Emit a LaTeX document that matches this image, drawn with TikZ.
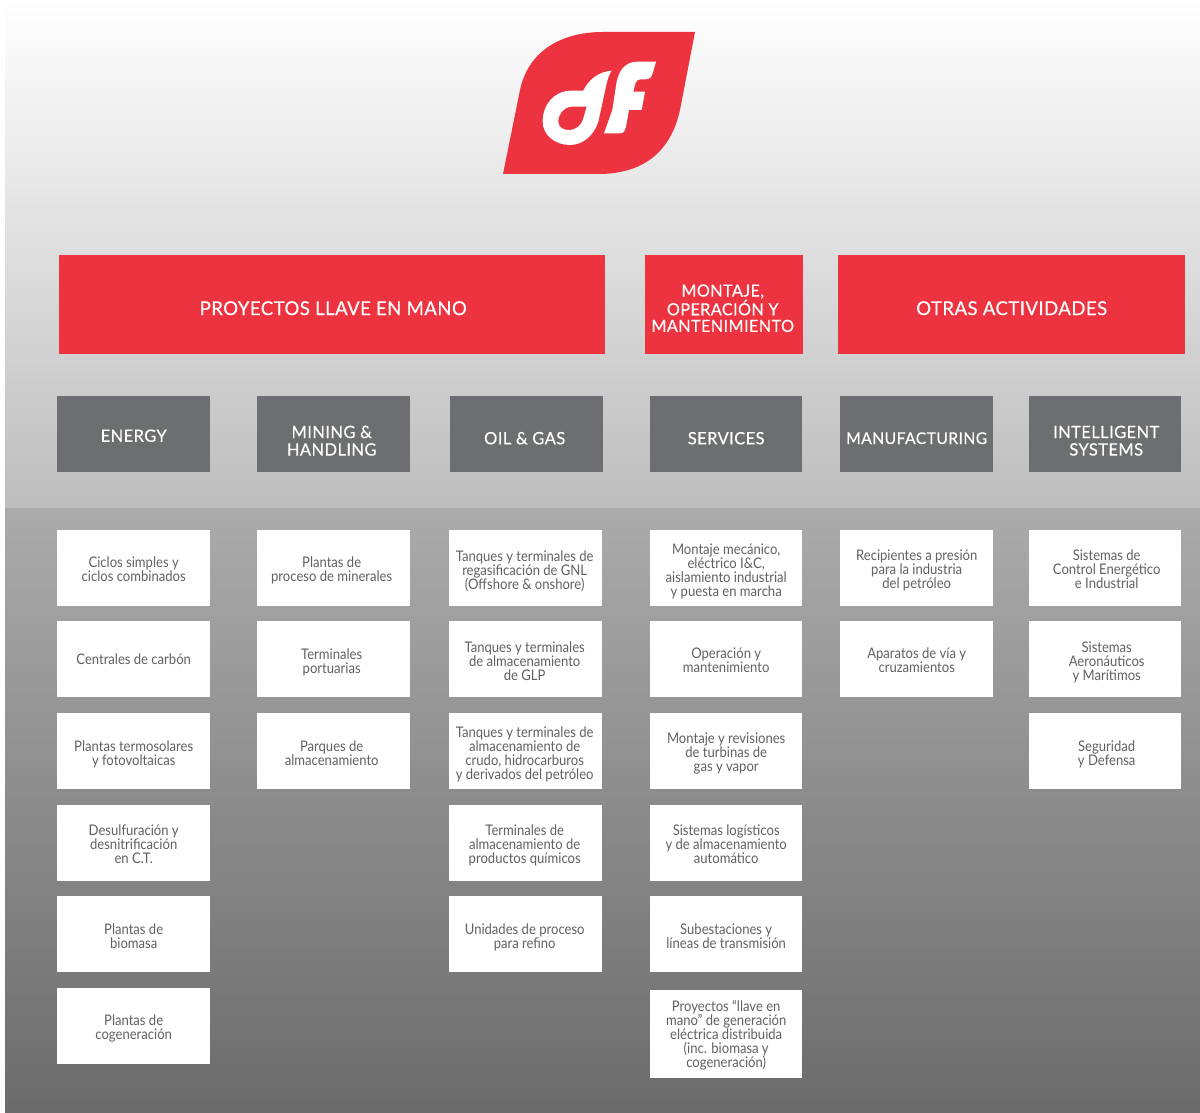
\documentclass[tikz,border=0pt]{standalone}
\usepackage{fontspec}
\newfontfamily\bodyf[FakeStretch=0.895]{Lato}
\newfontfamily\headf[FakeStretch=0.97,LetterSpace=2.5,FakeBold=0.35]{Lato}
\definecolor{dfred}{HTML}{EE3340}
\definecolor{dfgray}{HTML}{6D6E71}
\definecolor{dftext}{HTML}{5F6164}
\tikzset{
  redbox/.style={anchor=north west,fill=dfred,inner sep=0pt,minimum height=99pt},
  redtext/.style={text=white,inner sep=0pt,align=center,yshift=-3.5pt,font=\headf\fontsize{19.1}{17}\selectfont},
  redsmall/.style={xshift=-1.5pt,font=\headf\fontsize{16.7}{16.6}\selectfont},
  graybox/.style={anchor=north west,fill=dfgray,inner sep=0pt,minimum width=153pt,minimum height=76pt},
  graytext/.style={text=white,inner sep=0pt,align=center,yshift=-4.5pt,font=\headf\fontsize{17}{17.5}\selectfont},
  whitebox/.style={anchor=north west,fill=white,inner sep=0pt,minimum width=153pt,minimum height=76pt},
  whitetext/.style={text=dftext,inner sep=0pt,align=center,yshift=-3.5pt,font=\bodyf\fontsize{14.6}{14}\selectfont,execute at end node={\rule[-3.5pt]{0pt}{14pt}}}
}
% #1 box options, #2 text options, #3 name, #4 position, #5 text
\newcommand\rb[5]{\node[redbox,#1,label={[redtext,#2]center:{#5}}] (#3) at #4 {};}
\newcommand\gb[5]{\node[graybox,#1,label={[graytext,#2]center:{#5}}] (#3) at #4 {};}
\newcommand\wb[5]{\node[whitebox,#1,label={[whitetext,#2]center:{#5}}] (#3) at #4 {};}
\begin{document}
\begin{tikzpicture}[x=1pt,y=-1pt]
\useasboundingbox (0,0) rectangle (1200,1113);
\fill[white] (0,0) rectangle (1200,1113);
\shade[top color=white,bottom color=black!26] (5,0) rectangle (1200,508);
\shade[top color=black!33,bottom color=black!58] (5,508) rectangle (1200,1113);
% logo
\fill[dfred] (695,32) -- (603,32) .. controls (560,32) and (528,52) .. (520,90) -- (503,174) -- (598,174)
  .. controls (640,174) and (670,155) .. (680,110) -- cycle;
\begin{scope}[shift={(530,50)},x=0.3333pt,y=-0.3333pt]
\fill[white,even odd rule] (245,62) .. controls (205,65) and (175,90) .. (160,122) -- (120,122)
  .. controls (70,125) and (38,165) .. (38,215) .. controls (38,255) and (75,285) .. (120,285)
  .. controls (160,285) and (192,255) .. (205,215) -- (230,100) .. controls (234,85) and (238,72) .. (245,62) -- cycle
  (170,170) -- (125,170) .. controls (100,172) and (85,192) .. (85,215) .. controls (85,232) and (100,240) .. (115,240)
  .. controls (140,240) and (155,225) .. (160,205) -- cycle;
\fill[white] (378,35) -- (320,35) .. controls (285,37) and (268,60) .. (260,95) -- (247,180) -- (222,250) -- (270,250)
  .. controls (282,250) and (285,240) .. (288,230) -- (297,180) -- (335,180) -- (345,125) -- (310,125) -- (316,100)
  .. controls (318,92) and (325,88) .. (335,88) -- (345,88) .. controls (360,88) and (365,80) .. (368,70) -- cycle;
\end{scope}
% red headers
\rb{minimum width=546pt}{xshift=1pt}{r1}{(59,255)}{PROYECTOS LLAVE EN MANO}
\rb{minimum width=158pt}{redsmall}{r2}{(645,255)}{MONTAJE,\\OPERACIÓN Y\\MANTENIMIENTO}
\rb{minimum width=347pt}{}{r3}{(838,255)}{OTRAS ACTIVIDADES}
% gray headers
\gb{}{yshift=2.5pt}{g1}{(57,395.5)}{ENERGY}
\gb{}{xshift=-2pt,yshift=-2.5pt}{g2}{(257,395.5)}{MINING \&\\HANDLING}
\gb{}{xshift=-2pt}{g3}{(450,395.5)}{OIL \& GAS}
\gb{minimum width=152pt}{}{g4}{(650,395.5)}{SERVICES}
\gb{}{font=\headf\fontsize{16.2}{17.5}\selectfont}{g5}{(840,395.5)}{MANUFACTURING}
\gb{minimum width=152pt}{xshift=1pt,yshift=-2.5pt}{g6}{(1029,395.5)}{INTELLIGENT\\SYSTEMS}
% energy
\wb{}{}{e1}{(57,529.5)}{Ciclos simples y\\ciclos combinados}
\wb{}{yshift=1.5pt}{e2}{(57,621)}{Centrales de carbón}
\wb{}{}{e3}{(57,713)}{Plantas termosolares\\y fotovoltaicas}
\wb{}{}{e4}{(57,804.5)}{Desulfuración y\\desnitrificación\\en C.T.}
\wb{}{}{e5}{(57,896)}{Plantas de\\biomasa}
\wb{}{}{e6}{(57,987.5)}{Plantas de\\cogeneración}
% mining
\wb{}{xshift=-2pt}{m1}{(257,529.5)}{Plantas de\\proceso de minerales}
\wb{}{xshift=-2pt}{m2}{(257,621)}{Terminales\\portuarias}
\wb{}{xshift=-2pt}{m3}{(257,713)}{Parques de\\almacenamiento}
% oil
\wb{}{xshift=-1pt,yshift=-1pt}{o1}{(449,529.5)}{Tanques y terminales de\\regasificación de GNL\\(Offshore \& onshore)}
\wb{}{xshift=-1pt}{o2}{(449,621)}{Tanques y terminales\\de almacenamiento\\de GLP}
\wb{}{xshift=-1pt}{o3}{(449,713)}{Tanques y terminales de\\almacenamiento de\\crudo, hidrocarburos\\y derivados del petróleo}
\wb{}{xshift=-1pt}{o4}{(449,804.5)}{Terminales de\\almacenamiento de\\productos químicos}
\wb{}{xshift=-1pt}{o5}{(449,896)}{Unidades de proceso\\para refino}
% services
\wb{minimum width=152pt}{yshift=-1pt}{s1}{(650,529.5)}{Montaje mecánico,\\eléctrico I\&C,\\aislamiento industrial\\y puesta en marcha}
\wb{minimum width=152pt}{yshift=1pt}{s2}{(650,621)}{Operación y\\mantenimiento}
\wb{minimum width=152pt}{yshift=1pt}{s3}{(650,713)}{Montaje y revisiones\\de turbinas de\\gas y vapor}
\wb{minimum width=152pt}{}{s4}{(650,804.5)}{Sistemas logísticos\\y de almacenamiento\\automático}
\wb{minimum width=152pt}{}{s5}{(650,896)}{Subestaciones y\\líneas de transmisión}
\wb{minimum width=152pt,minimum height=88pt}{yshift=2pt}{s6}{(650,990)}{Proyectos “llave en\\mano” de generación\\eléctrica distribuida\\(inc. biomasa y\\cogeneración)}
% manufacturing
\wb{}{}{f1}{(840,529.5)}{Recipientes a presión\\para la industria\\del petróleo}
\wb{}{yshift=1pt}{f2}{(840,621)}{Aparatos de vía y\\cruzamientos}
% intelligent
\wb{minimum width=152pt}{xshift=1.5pt}{i1}{(1029,529.5)}{Sistemas de\\Control Energético\\e Industrial}
\wb{minimum width=152pt}{xshift=1.5pt}{i2}{(1029,621)}{Sistemas\\Aeronáuticos\\y Marítimos}
\wb{minimum width=152pt}{xshift=1.5pt}{i3}{(1029,713)}{Seguridad\\y Defensa}
\end{tikzpicture}
\end{document}
